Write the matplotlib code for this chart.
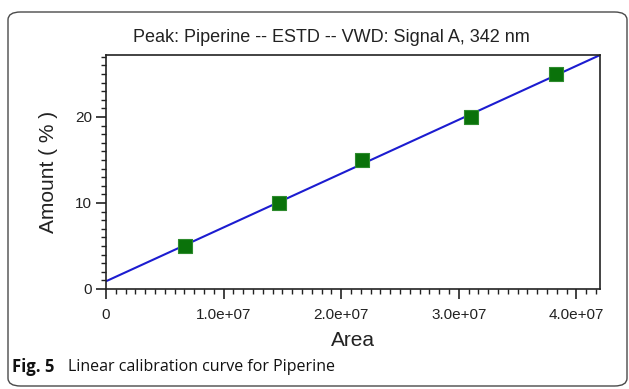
import numpy as np
import matplotlib
matplotlib.use('Agg')
import matplotlib.pyplot as plt
from matplotlib.patches import FancyBboxPatch
from matplotlib.ticker import MultipleLocator, FixedLocator

# calibration points
area = [6.7e6, 1.47e7, 2.18e7, 3.1e7, 3.83e7]
amount = [5, 10, 15, 20, 25]

# fitted line (intercept / slope as drawn)
fit_x = [0, 4.2e7]
intercept = 0.9
slope = 6.26e-7

x_ticks = [0, 1e7, 2e7, 3e7, 4e7]
x_tick_labels = ['0', '1.0e+07', '2.0e+07', '3.0e+07', '4.0e+07']
y_ticks = [0, 10, 20]

plt.rcParams['font.family'] = ['Liberation Sans', 'DejaVu Sans']

fig = plt.figure(figsize=(6.29, 3.89), dpi=100)

# rounded frame around the figure panel
frame = FancyBboxPatch((8 / 629, 3 / 389), 619 / 629, 374 / 389,
                       boxstyle='round,pad=0,rounding_size=0.02',
                       transform=fig.transFigure, fill=False,
                       edgecolor='#4a4a4a', linewidth=1.0)
fig.patches.append(frame)

ax = fig.add_axes([106 / 629, 100 / 389, 494 / 629, 234 / 389])

fit_y = [intercept + slope * v for v in fit_x]
ax.plot(fit_x, fit_y, color='#1c1cd0', linewidth=1.5, zorder=2)
ax.scatter(area, amount, marker='s', s=95, color='#0a720a',
           edgecolors='#2e8b2e', linewidths=0.8, zorder=3)

ax.set_xlim(0, 4.2e7)
ax.set_ylim(0, 27.2)

ax.xaxis.set_major_locator(FixedLocator(x_ticks))
ax.set_xticklabels(x_tick_labels)
ax.xaxis.set_minor_locator(MultipleLocator(1e7 / 12))
ax.yaxis.set_major_locator(FixedLocator(y_ticks))
ax.yaxis.set_minor_locator(MultipleLocator(1))

ax.tick_params(axis='both', which='major', direction='out', length=7,
               width=1.2, labelsize=11, color='#222222', labelcolor='#222222', pad=3)
ax.tick_params(axis='both', which='minor', direction='out', length=3.5,
               width=1.0, color='#222222')
ax.tick_params(axis='x', which='major', pad=7)

for s in ax.spines.values():
    s.set_color('#222222')
    s.set_linewidth(1.2)

# title sits a bit left of the axes centre in the original
fig.text(331 / 629, 1 - 38 / 389, 'Peak: Piperine -- ESTD -- VWD: Signal A, 342 nm',
         fontsize=13, color='#222222', ha='center', va='center')
ax.set_xlabel('Area', fontsize=15, color='#222222', labelpad=6)
ax.set_ylabel('Amount ( % )', fontsize=15, color='#222222', labelpad=12)

fig.text(12 / 629, 1 - 367 / 389, 'Fig. 5', fontsize=12, fontweight='bold',
         family='Open Sans', va='center', ha='left', color='#111111')
fig.text(68 / 629, 1 - 367 / 389, 'Linear calibration curve for Piperine',
         fontsize=11.5, family='Open Sans', va='center', ha='left', color='#111111')

fig.savefig('out.png', dpi=100)
